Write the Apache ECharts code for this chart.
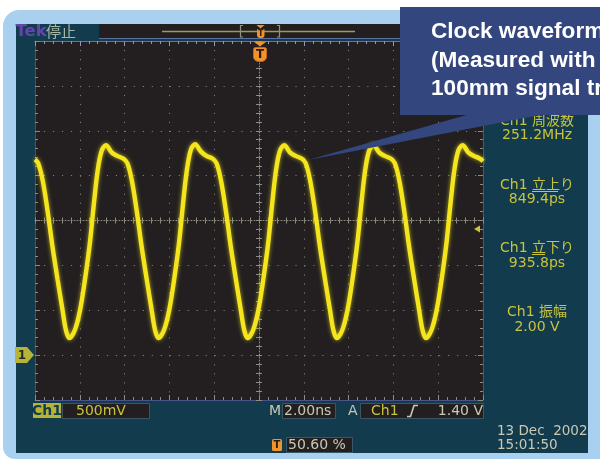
<!DOCTYPE html>
<html><head><meta charset="utf-8">
<script src="https://cdn.jsdelivr.net/npm/echarts@6/dist/echarts.min.js"></script>
<style>html,body{margin:0;padding:0;background:#fff}#c{width:600px;height:461px}</style>
</head><body><div id="c"></div>
<script>
// ---- data (time in ns, voltage in V) ----
const timeNs = [
  -10.00, -9.86, -9.66, -9.44, -9.22, -8.99, -8.77, -8.62,
  -8.47, -8.22, -7.99, -7.77, -7.55, -7.37, -7.20, -7.02, -6.83, -6.58, -6.33, -6.06, -5.88, -5.68, -5.46, -5.24, -5.01, -4.79, -4.64,
  -4.49, -4.24, -4.01, -3.79, -3.57, -3.39, -3.22, -3.04, -2.85, -2.60, -2.35, -2.08, -1.90, -1.70, -1.48, -1.26, -1.03, -0.81, -0.66,
  -0.51, -0.26, -0.03, 0.19, 0.41, 0.59, 0.76, 0.94, 1.13, 1.38, 1.63, 1.90, 2.08, 2.28, 2.50, 2.72, 2.95, 3.17, 3.32,
  3.47, 3.72, 3.95, 4.17, 4.39, 4.57, 4.74, 4.92, 5.11, 5.36, 5.61, 5.88, 6.06, 6.26, 6.48, 6.70, 6.93, 7.15, 7.30,
  7.45, 7.70, 7.93, 8.15, 8.37, 8.55, 8.72, 8.90, 9.09, 9.34, 9.59, 9.86, 10.00
];
const voltV = [
  2.18, 2.14, 1.95, 1.61, 1.21, 0.84, 0.50, 0.28,
  0.19, 0.28, 0.50, 0.84, 1.25, 1.69, 2.06, 2.28, 2.34, 2.26, 2.22, 2.19, 2.14, 1.95, 1.61, 1.21, 0.84, 0.50, 0.28,
  0.19, 0.28, 0.50, 0.84, 1.25, 1.69, 2.06, 2.29, 2.35, 2.27, 2.22, 2.19, 2.14, 1.95, 1.61, 1.21, 0.84, 0.50, 0.28,
  0.19, 0.28, 0.50, 0.84, 1.25, 1.69, 2.06, 2.28, 2.34, 2.26, 2.22, 2.19, 2.14, 1.95, 1.61, 1.21, 0.84, 0.50, 0.28,
  0.19, 0.28, 0.50, 0.84, 1.25, 1.69, 2.06, 2.28, 2.34, 2.26, 2.22, 2.19, 2.14, 1.95, 1.61, 1.21, 0.84, 0.50, 0.28,
  0.19, 0.28, 0.50, 0.84, 1.25, 1.69, 2.06, 2.28, 2.34, 2.26, 2.22, 2.19, 2.16
];
const xRangeNs = [-10, 10];      // 10 div x 2.00 ns
const xStepNs = 2;
const yRangeV = [-0.5, 3.5];     // 8 div x 500 mV
const yStepV = 0.5;
const measureNames = ['Ch1 周波数', 'Ch1 立上り', 'Ch1 立下り', 'Ch1 振幅'];
const measureValues = ['251.2MHz', '849.4ps', '935.8ps', '2.00 V'];
const calloutLines = ['Clock waveform', '(Measured with a', '100mm signal trace)'];
const statusTexts = { ch: 'Ch1', volts: '500mV', time: '2.00ns', trigSrc: 'Ch1', trigLevel: '1.40 V', trigPos: '50.60 %', date: '13 Dec  2002', clock: '15:01:50' };

// ---- layout / style ----
const P = { left: 35, top: 41, width: 448, height: 359 };
const YEL = '#c9c33e', GRY = '#c9c9b2', DARK = '#231f20', TEAL = '#123b4e', BLUE = '#33467e', ORG = '#f2922a';
const MONO = '"DejaVu Sans", "Noto Sans CJK JP", sans-serif';
const tickC = '#8e8c80';

function gridOf() { return Object.assign({ containLabel: false }, P); }
function hiddenAxis(extra) {
  return Object.assign({ type: 'value', axisLabel: { show: false }, splitLine: { show: false }, axisTick: { show: false }, axisLine: { show: false } }, extra);
}

const chart = echarts.init(document.getElementById('c'), null, { renderer: 'canvas' });

const grids = [
  Object.assign(gridOf(), { show: true, backgroundColor: DARK, borderWidth: 0 }),
  gridOf(), gridOf(), gridOf(), gridOf()
];
const xAxes = [
  hiddenAxis({ gridIndex: 0, min: xRangeNs[0], max: xRangeNs[1], interval: xStepNs,
    splitLine: { show: true, showMinLine: false, showMaxLine: false, lineStyle: { color: '#7f7c72', width: 1, type: [1.2, 7.78] } } }),
  hiddenAxis({ gridIndex: 1, min: xRangeNs[0], max: xRangeNs[1], interval: xStepNs,
    axisLine: { show: true, onZero: true, lineStyle: { color: '#8e8c80', width: 1, type: [1, 2] } },
    axisTick: { show: true, inside: true, length: 3, lineStyle: { color: tickC } },
    minorTick: { show: true, splitNumber: 5, length: 3, lineStyle: { color: tickC } } }),
  hiddenAxis({ gridIndex: 2, min: xRangeNs[0], max: xRangeNs[1], interval: xStepNs,
    axisLine: { show: false, onZero: true },
    axisTick: { show: true, inside: false, length: 3, lineStyle: { color: tickC } },
    minorTick: { show: true, splitNumber: 5, length: 3, lineStyle: { color: tickC } } }),
  hiddenAxis({ gridIndex: 3, position: 'bottom', min: xRangeNs[0], max: xRangeNs[1], interval: xStepNs,
    axisLine: { show: true, onZero: false, lineStyle: { color: '#4b5488', width: 1 } },
    axisTick: { show: true, inside: true, length: 5, lineStyle: { color: tickC } },
    minorTick: { show: true, splitNumber: 5, length: 3, lineStyle: { color: tickC } } }),
  hiddenAxis({ gridIndex: 4, position: 'top', min: xRangeNs[0], max: xRangeNs[1], interval: xStepNs,
    axisLine: { show: true, onZero: false, lineStyle: { color: '#6a6fa6', width: 1 } },
    axisTick: { show: true, inside: true, length: 5, lineStyle: { color: '#9a94b8' } },
    minorTick: { show: true, splitNumber: 5, length: 3, lineStyle: { color: '#9a94b8' } } })
];
const yAxes = [
  hiddenAxis({ gridIndex: 0, min: yRangeV[0], max: yRangeV[1], interval: yStepV,
    splitLine: { show: true, showMinLine: false, showMaxLine: false, lineStyle: { color: '#7f7c72', width: 1, type: [1.2, 7.78] } } }),
  hiddenAxis({ gridIndex: 1, min: -4, max: 4, interval: 1,
    axisLine: { show: true, onZero: true, lineStyle: { color: '#8e8c80', width: 1, type: [1, 2] } },
    axisTick: { show: true, inside: true, length: 3, lineStyle: { color: tickC } },
    minorTick: { show: true, splitNumber: 5, length: 3, lineStyle: { color: tickC } } }),
  hiddenAxis({ gridIndex: 2, min: -4, max: 4, interval: 1,
    axisLine: { show: false, onZero: true },
    axisTick: { show: true, inside: false, length: 3, lineStyle: { color: tickC } },
    minorTick: { show: true, splitNumber: 5, length: 3, lineStyle: { color: tickC } } }),
  hiddenAxis({ gridIndex: 3, position: 'left', min: -4, max: 4, interval: 1,
    axisLine: { show: true, onZero: false, lineStyle: { color: '#3f4f88', width: 1 } },
    axisTick: { show: true, inside: true, length: 5, lineStyle: { color: tickC } },
    minorTick: { show: true, splitNumber: 5, length: 3, lineStyle: { color: tickC } } }),
  hiddenAxis({ gridIndex: 4, position: 'right', min: -4, max: 4, interval: 1,
    axisLine: { show: true, onZero: false, lineStyle: { color: '#4b5488', width: 1 } },
    axisTick: { show: true, inside: true, length: 5, lineStyle: { color: tickC } },
    minorTick: { show: true, splitNumber: 5, length: 3, lineStyle: { color: tickC } } })
];
xAxes.forEach((a, i) => { if (i > 0 && a.axisLine && a.axisLine.onZero) a.axisLine.onZeroAxisIndex = i; });
yAxes.forEach((a, i) => { if (i > 0 && a.axisLine && a.axisLine.onZero) a.axisLine.onZeroAxisIndex = i; });

function txt(text, x, y, fill, font, align, z) {
  return { type: 'text', z: z || 5, silent: true,
    style: { text: text, x: x, y: y, fill: fill, font: font, align: align || 'left', verticalAlign: 'middle', textAlign: align || 'left', textVerticalAlign: 'middle' } };
}
function box(x, y, w, h, fill, stroke, z) {
  return { type: 'rect', z: z || 3, silent: true, shape: { x: x, y: y, width: w, height: h }, style: { fill: fill, stroke: stroke || null, lineWidth: 1 } };
}

const g = [];
g.push({ type: 'rect', z: -20, silent: true, shape: { x: 3, y: 10, width: 640, height: 449, r: [16, 0, 0, 12] }, style: { fill: '#a9d0ef' } });
g.push({ type: 'rect', z: -19, silent: true, shape: { x: 16, y: 24, width: 572, height: 429 }, style: { fill: TEAL } });
g.push(box(99, 24, 420, 14, DARK, null, 1));
g.push({ type: 'line', z: 2, silent: true, shape: { x1: 99, y1: 38.5, x2: 483, y2: 38.5 }, style: { stroke: '#5f6fa4', lineWidth: 1 } });
g.push(txt('Tek', 15.5, 31.5, '#6644ad', 'bold 16.5px "DejaVu Sans", sans-serif'));
g.push(txt('停止', 46, 31.5, '#a9b8a4', '15px "Noto Sans CJK JP", sans-serif'));
g.push({ type: 'line', z: 2, silent: true, shape: { x1: 162, y1: 31.5, x2: 355, y2: 31.5 }, style: { stroke: '#a59d3c', lineWidth: 1.5 } });
g.push({ type: 'polyline', z: 3, silent: true, shape: { points: [[243, 25.5], [240.5, 25.5], [240.5, 37], [243, 37]] }, style: { stroke: '#8d9282', lineWidth: 1.2, fill: null } });
g.push({ type: 'polyline', z: 3, silent: true, shape: { points: [[277, 25.5], [279.5, 25.5], [279.5, 37], [277, 37]] }, style: { stroke: '#8d9282', lineWidth: 1.2, fill: null } });
g.push({ type: 'polygon', z: 4, silent: true, shape: { points: [[256.5, 25], [264.5, 25], [260.5, 28.5]] }, style: { fill: ORG } });
g.push({ type: 'rect', z: 4, silent: true, shape: { x: 257, y: 29, width: 7.5, height: 9, r: [1, 1, 3, 3] }, style: { fill: ORG } });
g.push(txt('T', 260.7, 33.8, '#3a2010', 'bold 8px "DejaVu Sans", sans-serif', 'center', 5));
g.push({ type: 'polygon', z: 6, silent: true, shape: { points: [[253.5, 41.5], [266.5, 41.5], [260, 46.5]] }, style: { fill: ORG } });
g.push({ type: 'rect', z: 6, silent: true, shape: { x: 253.5, y: 47.5, width: 13, height: 14, r: [2, 2, 5, 5] }, style: { fill: ORG, stroke: '#c56a1c', lineWidth: 1 } });
g.push(txt('T', 260, 54.5, '#2b1a10', 'bold 12px "DejaVu Sans", sans-serif', 'center', 7));
g.push({ type: 'polygon', z: 6, silent: true, shape: { points: [[15, 347], [27, 347], [34, 355], [27, 363], [15, 363]] }, style: { fill: '#b6b336' } });
g.push(txt('1', 22, 355.5, '#1c2b2b', 'bold 12px "DejaVu Sans", sans-serif', 'center', 7));
g.push({ type: 'polygon', z: 6, silent: true, shape: { points: [[474, 229], [480, 225.5], [480, 232.5]] }, style: { fill: '#c9c33e' } });

const mY = [[121.5, 135.5], [185, 199], [248, 263], [312, 327]];
measureNames.forEach((n, i) => {
  g.push(txt(n, 537, mY[i][0], YEL, '14px ' + MONO, 'center'));
  g.push(txt(measureValues[i], 537, mY[i][1], YEL, '14px ' + MONO, 'center'));
});
g.push({ type: 'line', z: 5, silent: true, shape: { x1: 532, y1: 191.5, x2: 558, y2: 191.5 }, style: { stroke: YEL, lineWidth: 1 } });
g.push({ type: 'line', z: 5, silent: true, shape: { x1: 532, y1: 254.5, x2: 545, y2: 254.5 }, style: { stroke: YEL, lineWidth: 1 } });

g.push(box(33, 403, 28, 15, '#b6b336', null, 3));
g.push(txt(statusTexts.ch, 47, 411, '#123b4e', 'bold 14px ' + MONO, 'center', 4));
g.push(box(62.5, 403.5, 87, 15, DARK, '#3c5666', 3));
g.push(txt(statusTexts.volts, 76, 411, YEL, '14px ' + MONO, 'left', 4));
g.push(txt('M', 269, 411, GRY, '14px ' + MONO, 'left', 4));
g.push(box(282.5, 403.5, 53, 15, DARK, '#3c5666', 3));
g.push(txt(statusTexts.time, 284, 411, GRY, '14px ' + MONO, 'left', 4));
g.push(txt('A', 348, 411, GRY, '14px ' + MONO, 'left', 4));
g.push(box(360.5, 403.5, 123, 15, DARK, '#3c5666', 3));
g.push(txt(statusTexts.trigSrc, 371, 411, YEL, '14px ' + MONO, 'left', 4));
g.push({ type: 'polyline', z: 4, silent: true, shape: { points: [[407, 416.5], [410.5, 416.5], [414, 405.5], [418, 405.5]] }, style: { stroke: GRY, lineWidth: 1.6, fill: null } });
g.push(txt(statusTexts.trigLevel, 483, 411, GRY, '14px ' + MONO, 'right', 4));
g.push({ type: 'rect', z: 4, silent: true, shape: { x: 272, y: 439, width: 10, height: 12, r: 1.5 }, style: { fill: ORG } });
g.push(txt('T', 277, 445.5, '#2b1a10', 'bold 10px "DejaVu Sans", sans-serif', 'center', 5));
g.push(box(286.5, 437.5, 66, 15, DARK, '#3c5666', 3));
g.push(txt(statusTexts.trigPos, 288, 445, GRY, '14px ' + MONO, 'left', 4));
g.push(txt(statusTexts.date, 497, 431.5, GRY, '13.5px ' + MONO, 'left', 4));
g.push(txt(statusTexts.clock, 497, 445.5, GRY, '13.5px ' + MONO, 'left', 4));

g.push({ type: 'polygon', z: 50, silent: true, shape: { points: [[308, 160], [470, 114], [545, 114]] }, style: { fill: BLUE } });
g.push({ type: 'rect', z: 50, silent: true, shape: { x: 400, y: 7, width: 220, height: 108 }, style: { fill: BLUE } });
calloutLines.forEach((l, i) => g.push(txt(l, 431, 32 + i * 28.5, '#ffffff', 'bold 22.6px "Liberation Sans", Arial, sans-serif', 'left', 51)));

chart.setOption({
  animation: false,
  backgroundColor: '#ffffff',
  grid: grids,
  xAxis: xAxes,
  yAxis: yAxes,
  graphic: { elements: g },
  series: [{
    type: 'line', xAxisIndex: 0, yAxisIndex: 0, z: 10,
    data: timeNs.map((t, i) => [t, voltV[i]]),
    showSymbol: false, smooth: 0.35, clip: true,
    lineStyle: { color: '#f5e51c', width: 4.4, shadowColor: 'rgba(235,225,40,0.7)', shadowBlur: 4 }
  }]
});
</script></body></html>
